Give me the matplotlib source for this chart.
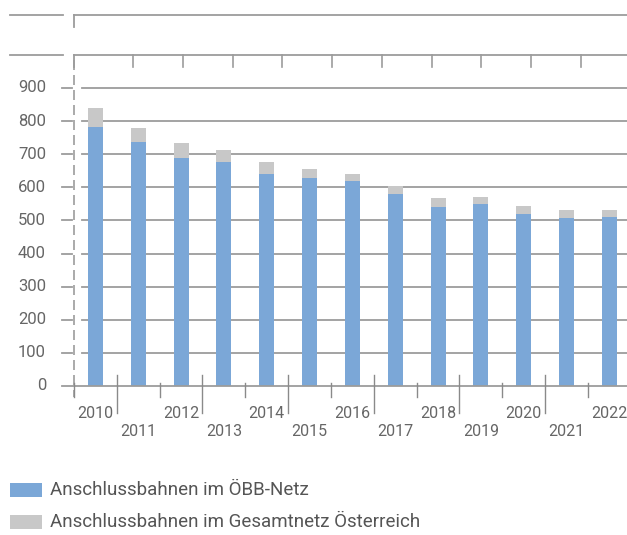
import numpy as np
import matplotlib
matplotlib.use('Agg')
import matplotlib.pyplot as plt
from matplotlib.patches import Rectangle

years = ['2010', '2011', '2012', '2013', '2014', '2015', '2016',
         '2017', '2018', '2019', '2020', '2021', '2022']
oebb = [783, 738, 690, 677, 639, 629, 618, 580, 542, 549, 520, 507, 511]
gesamt = [841, 780, 733, 713, 675, 656, 640, 604, 569, 572, 544, 532, 532]
yticks = [0, 100, 200, 300, 400, 500, 600, 700, 800, 900]
legend_labels = ['Anschlussbahnen im ÖBB-Netz',
                 'Anschlussbahnen im Gesamtnetz Österreich']

blue = '#7ba7d7'
grey = '#c8c8c8'
line_c = '#9c9c9c'
text_c = '#666666'
plt.rcParams['font.family'] = ['Roboto', 'DejaVu Sans']

W, H = 627, 535
fig = plt.figure(figsize=(W / 100, H / 100), dpi=100)

# overlay in pixel coordinates for the decorations
ov = fig.add_axes([0, 0, 1, 1])
ov.set_xlim(0, W)
ov.set_ylim(H, 0)
ov.axis('off')

# plot axes: x=74..627 px, y=88..386 px
x0, x1, ytop, ybot = 74, 627, 88, 386
ax = fig.add_axes([x0 / W, (H - ybot) / H, (x1 - x0) / W, (ybot - ytop) / H])
step = 42.83
ax.set_xlim(-0.5, -0.5 + (x1 - x0) / step)
ax.set_ylim(0, 900)
ax.axis('off')
ppu = (ybot - ytop) / 900.0  # px per unit

x = np.arange(len(years))
extra = np.array(gesamt) - np.array(oebb)

# gridlines
for v in yticks[1:]:
    ax.plot([-0.5 + 8 / step, ax.get_xlim()[1]], [v, v], color=line_c, lw=1.3,
            clip_on=False, zorder=1)
    ax.plot([-0.5 - 12 / step, -0.5 - 2 / step], [v, v], color=line_c, lw=1.3,
            clip_on=False, zorder=1)
ax.plot([-0.5 - 12 / step, ax.get_xlim()[1]], [0, 0], color=line_c, lw=1.3,
        clip_on=False, zorder=3)

ax.bar(x, oebb, width=0.35, color=blue, zorder=2)
ax.bar(x, extra, bottom=oebb, width=0.35, color=grey, zorder=2)

for v in yticks:
    ax.text(-0.5 - 28 / step, v, str(v), ha='right', va='center',
            fontsize=12, color=text_c)

# x ticks between categories, alternating length
for i in range(len(years)):
    if i % 2 == 0:
        ax.plot([i - 0.5, i - 0.5], [3 / ppu, -11 / ppu], color='#8a8a8a',
                lw=1.0, clip_on=False, zorder=3)
        ax.text(i, -28 / ppu, years[i], ha='center', va='center',
                fontsize=11.5, color=text_c)
    else:
        ax.plot([i - 0.5, i - 0.5], [11 / ppu, -27 / ppu], color='#8a8a8a',
                lw=1.0, clip_on=False, zorder=3)
        ax.text(i, -45 / ppu, years[i], ha='center', va='center',
                fontsize=11.5, color=text_c)

# dashed left axis
ov.plot([74, 74], [60, 397], color=line_c, lw=1.2, ls=(0, (6, 3)))

# top header lines
for yy in (15, 55):
    ov.plot([10, 63], [yy, yy], color=line_c, lw=1.3)
    ov.plot([74, 627], [yy, yy], color=line_c, lw=1.3)
    ov.plot([74, 74], [yy, yy + 12], color=line_c, lw=1.3)
for xx in np.linspace(133, 581, 10):
    ov.plot([xx, xx], [55, 67], color=line_c, lw=1.2)

# legend
for k, (lab, col) in enumerate(zip(legend_labels, [blue, grey])):
    yy = 490 + k * 32
    ov.add_patch(Rectangle((10, yy - 7), 32, 14, color=col, lw=0))
    ov.text(50, yy, lab, ha='left', va='center', fontsize=13.5, color='#555555')

fig.savefig('out.png', dpi=100)
